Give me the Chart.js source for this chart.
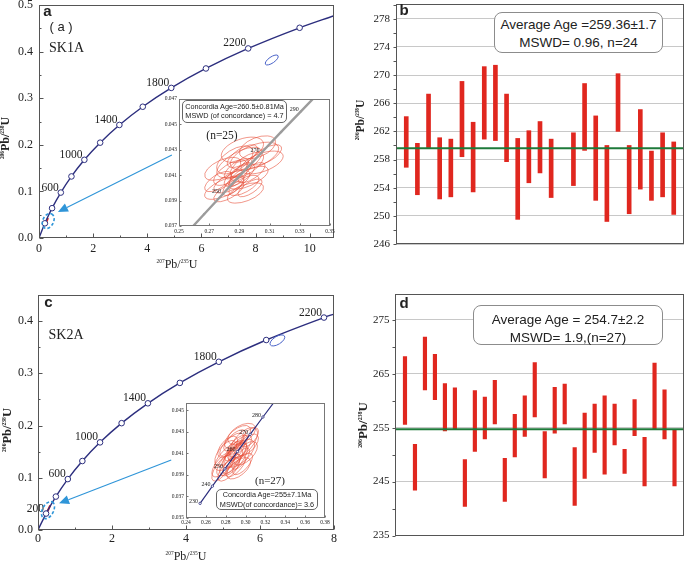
<!DOCTYPE html>
<html>
<head>
<meta charset="utf-8">
<title>U-Pb concordia and weighted mean ages, SK1A / SK2A</title>
<script src="https://cdn.jsdelivr.net/npm/chart.js@4.4.1/dist/chart.umd.min.js"></script>
<style>
  body { margin:0; background:#fff; }
  #page { position:relative; width:685px; height:562px; overflow:hidden; font-family:"Liberation Sans", Arial, sans-serif; color:#222; }
  canvas { position:absolute; }
  .c { position:absolute; transform:translate(-50%,-50%); white-space:nowrap; line-height:1.15; }
  .serif { font-family:"Liberation Serif", "Times New Roman", serif; }
  .rot { transform:translate(-50%,-50%) rotate(-90deg); font-weight:bold; }
  .s { font-size:0.45em; position:relative; top:-0.9em; }
  .box { position:absolute; box-sizing:border-box; border:1px solid #8c8c8c; background:#fff;
         display:flex; flex-direction:column; justify-content:center; align-items:center; white-space:nowrap; }
</style>
</head>
<body>
<div id="page">
  <canvas id="chA" width="342" height="280" style="left:0;top:0"></canvas>
  <canvas id="chAin" width="186" height="143" style="left:150px;top:94px"></canvas>
  <canvas id="chB" width="343" height="280" style="left:342px;top:0"></canvas>
  <canvas id="chC" width="342" height="282" style="left:0;top:280px"></canvas>
  <canvas id="chCin" width="176" height="132" style="left:155px;top:398px"></canvas>
  <canvas id="chD" width="343" height="282" style="left:342px;top:280px"></canvas>

  <!-- panel a -->
  <div class="c" style="left:47.5px;top:10.5px;font-size:15px;font-weight:bold">a</div>
  <div class="c" style="left:61px;top:27px;font-size:13px">( a )</div>
  <div class="c serif" style="left:66.5px;top:48px;font-size:14px">SK1A</div>
  <div class="c serif" style="left:177px;top:265px;font-size:12px"><span class="s">207</span>Pb/<span class="s">235</span>U</div>
  <div class="c serif rot" style="left:6px;top:138px;font-size:12px"><span class="s">206</span>Pb/<span class="s">238</span>U</div>
  <div class="box" style="left:182px;top:100px;width:105px;height:23px;border-color:#666;border-radius:5px;font-size:7.3px;line-height:9.5px;padding-bottom:1px">
    <div>Concordia Age=260.5±0.81Ma</div><div>MSWD (of concordance) = 4.7</div>
  </div>
  <div class="c serif" style="left:222px;top:136px;font-size:11.5px">(n=25)</div>

  <!-- panel b -->
  <div class="c" style="left:404px;top:10px;font-size:15px;font-weight:bold">b</div>
  <div class="box" style="left:494px;top:12px;width:169px;height:41px;border-radius:8px;font-size:13.5px;line-height:18px;padding-top:3px">
    <div>Average Age =259.36±1.7</div><div>MSWD= 0.96, n=24</div>
  </div>
  <div class="c serif rot" style="left:361px;top:120px;font-size:11.5px"><span class="s">206</span>Pb/<span class="s">238</span>U</div>

  <!-- panel c -->
  <div class="c" style="left:48.5px;top:302px;font-size:15px;font-weight:bold">c</div>
  <div class="c serif" style="left:66px;top:335px;font-size:14px">SK2A</div>
  <div class="c serif" style="left:186px;top:557px;font-size:12px"><span class="s">207</span>Pb/<span class="s">235</span>U</div>
  <div class="c serif rot" style="left:7px;top:430px;font-size:12.5px"><span class="s">206</span>Pb/<span class="s">238</span>U</div>
  <div class="box" style="left:216px;top:489px;width:102px;height:21px;border-color:#666;border-radius:5px;font-size:7.3px;line-height:9.5px">
    <div>Concordia Age=255±7.1Ma</div><div>MSWD(of concordance)= 3.6</div>
  </div>
  <div class="c serif" style="left:270px;top:480px;font-size:11px">(n=27)</div>

  <!-- panel d -->
  <div class="c" style="left:404px;top:303px;font-size:15px;font-weight:bold">d</div>
  <div class="box" style="left:473px;top:305px;width:190px;height:40px;border-radius:8px;font-size:13.5px;line-height:17.5px;padding-top:7px">
    <div>Average Age = 254.7±2.2</div><div>MSWD= 1.9,(n=27)</div>
  </div>
  <div class="c serif rot" style="left:363px;top:425px;font-size:13px"><span class="s">206</span>Pb/<span class="s">238</span>U</div>
</div>

<script>
"use strict";

// ---- concordia curve, main panels (207Pb/235U, 206Pb/238U, age labels) ----
var aConX = [0, 0.218, 0.483, 0.806, 1.199, 1.677, 2.260, 2.970, 3.834, 4.887, 6.168, 7.729, 9.630, 10.9];
var aConY = [0, 0.0315, 0.0640, 0.0975, 0.1321, 0.1678, 0.2046, 0.2426, 0.2817, 0.3221, 0.3638, 0.4068, 0.4511, 0.4771];
var aConAge = ['', '', '', '600', '', '1000', '', '1400', '', '1800', '', '2200', '', ''];

var cConX = [0, 0.218, 0.483, 0.806, 1.199, 1.677, 2.260, 2.970, 3.834, 4.887, 6.168, 7.729, 8.0];
var cConY = [0, 0.0315, 0.0640, 0.0975, 0.1321, 0.1678, 0.2046, 0.2426, 0.2817, 0.3221, 0.3638, 0.4068, 0.4135];
var cConAge = ['', '200', '', '600', '', '1000', '', '1400', '', '1800', '', '2200', ''];

var aXTicks = [0, 2, 4, 6, 8, 10];
var aYTicks = [0, 0.1, 0.2, 0.3, 0.4, 0.5];
var cXTicks = [0, 2, 4, 6, 8];
var cYTicks = [0, 0.1, 0.2, 0.3, 0.4];

// outlier ellipse and zoomed cluster: x, y, half width, half height, rho
var aOutlier = [8.6, 0.382, 0.24, 0.0107, 0.7];
var aCircled = [0.34, 0.0365, 0.22, 0.016, 0.3];
var cOutlier = [6.47, 0.363, 0.2, 0.0106, 0.6];
var cCircled = [0.27, 0.038, 0.176, 0.0163, 0.4];

// ---- insets: concordia between 230 and 310 Ma ----
var insConX = [0.2542, 0.2666, 0.2792, 0.2918, 0.3046, 0.3175, 0.3306, 0.3438, 0.3571];
var insConY = [0.03632, 0.03793, 0.03954, 0.04116, 0.04277, 0.04439, 0.04601, 0.04764, 0.04926];
var aInsAge = ['', '', '250', '', '270', '', '290', '', ''];
var cInsAge = ['230', '240', '250', '260', '270', '280', '', '', ''];

var aInsXTicks = [0.25, 0.27, 0.29, 0.31, 0.33, 0.35];
var aInsYTicks = [0.037, 0.039, 0.041, 0.043, 0.045, 0.047];
var cInsXTicks = [0.24, 0.26, 0.28, 0.30, 0.32, 0.34, 0.36, 0.38];
var cInsYTicks = [0.035, 0.037, 0.039, 0.041, 0.043, 0.045];

// SK1A spot ellipses (n=25)
var aEllX   = [0.290, 0.285, 0.295, 0.300, 0.292, 0.280, 0.298, 0.288, 0.305, 0.283, 0.293, 0.287, 0.296, 0.276, 0.289, 0.291, 0.302, 0.284, 0.294, 0.290, 0.279, 0.297, 0.286, 0.292, 0.308];
var aEllY   = [0.0410, 0.0405, 0.0418, 0.0425, 0.0430, 0.0400, 0.0412, 0.0415, 0.0420, 0.0397, 0.0402, 0.0422, 0.0408, 0.0405, 0.0408, 0.0413, 0.0432, 0.0412, 0.0396, 0.0420, 0.0415, 0.0400, 0.0402, 0.0425, 0.0426];
var aEllSx  = [0.010, 0.012, 0.011, 0.016, 0.014, 0.013, 0.009, 0.008, 0.014, 0.010, 0.010, 0.012, 0.013, 0.009, 0.006, 0.007, 0.012, 0.011, 0.012, 0.015, 0.012, 0.008, 0.007, 0.010, 0.010];
var aEllSy  = [0.0009, 0.0009, 0.0010, 0.0011, 0.0010, 0.0009, 0.0008, 0.0008, 0.0009, 0.0008, 0.0008, 0.0011, 0.0009, 0.0008, 0.0007, 0.0007, 0.0009, 0.0010, 0.0008, 0.0012, 0.0009, 0.0007, 0.0008, 0.0009, 0.0008];
var aEllRho = [0.70, 0.65, 0.65, 0.55, 0.45, 0.65, 0.70, 0.70, 0.55, 0.70, 0.65, 0.55, 0.65, 0.65, 0.75, 0.75, 0.45, 0.65, 0.55, 0.65, 0.55, 0.70, 0.70, 0.65, 0.65];

// SK2A spot ellipses (n=27)
var cEllX   = [0.289, 0.284, 0.294, 0.298, 0.292, 0.280, 0.286, 0.300, 0.290, 0.283, 0.295, 0.287, 0.291, 0.296, 0.278, 0.288, 0.302, 0.293, 0.282, 0.297, 0.285, 0.292, 0.276, 0.304, 0.289, 0.294, 0.286];
var cEllY   = [0.0408, 0.0402, 0.0415, 0.0420, 0.0425, 0.0410, 0.0418, 0.0410, 0.0398, 0.0395, 0.0405, 0.0412, 0.0412, 0.0428, 0.0400, 0.0404, 0.0418, 0.0396, 0.0416, 0.0400, 0.0408, 0.0418, 0.0396, 0.0425, 0.0422, 0.0410, 0.0400];
var cEllSx  = [0.012, 0.013, 0.012, 0.014, 0.013, 0.011, 0.012, 0.012, 0.010, 0.011, 0.009, 0.008, 0.008, 0.014, 0.012, 0.014, 0.011, 0.012, 0.010, 0.010, 0.016, 0.010, 0.010, 0.009, 0.011, 0.015, 0.009];
var cEllSy  = [0.0012, 0.0013, 0.0012, 0.0014, 0.0011, 0.0012, 0.0011, 0.0011, 0.0010, 0.0011, 0.0010, 0.0009, 0.0009, 0.0010, 0.0012, 0.0015, 0.0010, 0.0010, 0.0010, 0.0010, 0.0014, 0.0009, 0.0012, 0.0009, 0.0010, 0.0013, 0.0009];
var cEllRho = [0.70, 0.70, 0.70, 0.60, 0.60, 0.60, 0.70, 0.60, 0.70, 0.70, 0.70, 0.75, 0.75, 0.50, 0.70, 0.70, 0.60, 0.60, 0.60, 0.70, 0.70, 0.70, 0.70, 0.60, 0.70, 0.60, 0.70];

// ---- weighted mean plots: spot number, age low/high (Ma) ----
var bSpot = [1, 2, 3, 4, 5, 6, 7, 8, 9, 10, 11, 12, 13, 14, 16, 17, 18, 19, 20, 21, 22, 23, 24, 25];
var bLow  = [256.9, 253.0, 259.7, 252.4, 252.7, 258.4, 253.4, 260.9, 260.7, 257.7, 249.5, 254.7, 256.1, 252.6, 254.3, 259.3, 252.2, 249.2, 262.0, 250.3, 253.8, 252.2, 252.7, 250.2];
var bHigh = [264.1, 260.3, 267.3, 261.1, 260.9, 269.1, 263.3, 271.2, 271.4, 267.3, 261.0, 262.1, 263.4, 260.9, 261.8, 268.8, 264.2, 260.0, 270.2, 260.0, 265.1, 259.2, 261.8, 260.5];
var bMean = 259.6;
var bYTicks = [246, 250, 254, 258, 262, 266, 270, 274, 278];

var dSpot = [1, 2, 3, 4, 5, 6, 7, 8, 9, 10, 11, 12, 13, 14, 15, 16, 17, 18, 19, 20, 21, 22, 23, 24, 25, 26, 27, 28];
var dLow  = [255.6, 243.4, 262.0, 260.2, 254.4, 254.7, 240.4, 250.6, 252.9, 255.7, 241.3, 249.6, 253.4, 257.0, 245.7, 254.0, 255.7, 240.6, 245.6, 250.4, 246.4, 251.8, 246.5, 253.5, 244.2, 254.7, 252.9, 244.2];
var dHigh = [268.2, 251.9, 271.8, 268.6, 263.2, 262.4, 249.1, 261.9, 260.7, 263.8, 249.3, 257.5, 260.9, 267.1, 254.3, 262.5, 263.1, 251.3, 257.7, 259.4, 260.9, 259.4, 251.0, 260.2, 253.2, 267.0, 262.0, 254.6];
var dMean = 254.7;
var dYTicks = [235, 245, 255, 265, 275];

var SERIF = '"Liberation Serif", "Times New Roman", serif';
var NAVY = '#2c2e7e';
var RED = '#e0271f';
var GREEN = '#1e7a3a';
var SKY = '#2f95d8';


// linear axis with a fixed box size and an explicit tick list
function axis(o) {
	return {
		type: 'linear', min: o.min, max: o.max, offset: false,
		afterBuildTicks: function(s) { s.ticks = o.ticks.map(function(v) { return { value: v }; }); },
		afterFit: function(s) {
			if (s.isHorizontal()) s.height = o.size; else s.width = o.size;
			s.paddingLeft = s.paddingRight = s.paddingTop = s.paddingBottom = 0;
		},
		grid: { display: !!o.grid, color: o.grid, drawTicks: false, lineWidth: 1 },
		border: { display: false },
		ticks: {
			display: o.labels !== false, autoSkip: false, maxRotation: 0,
			font: { family: SERIF, size: o.font || 12 }, color: '#222', padding: o.pad || 0,
			callback: o.fmt || function(v) { return v; }
		}
	};
}

// frame round the plot area plus small major/minor ticks (dir 1 = inward)
function frame(color, dir, major, minor) {
	return {
		id: 'frame',
		afterDraw: function(chart) {
			var ctx = chart.ctx, a = chart.chartArea, xs = chart.scales.x, ys = chart.scales.y;
			var L = Math.round(a.left) + 0.5, R = Math.round(a.right) - 0.5;
			var T = Math.round(a.top) + 0.5, B = Math.round(a.bottom) - 0.5;
			ctx.save();
			ctx.strokeStyle = color;
			ctx.lineWidth = 1;
			ctx.strokeRect(L, T, R - L, B - T);
			var marks = function(scale, horiz) {
				var t = scale.ticks.map(function(k) { return k.value; });
				var list = [];
				t.forEach(function(v, i) {
					list.push([v, major]);
					if (i < t.length - 1) list.push([(v + t[i + 1]) / 2, minor]);
				});
				if (t.length > 1) {
					var h = (t[1] - t[0]) / 2;
					list.push([t[0] - h, minor], [t[t.length - 1] + h, minor]);
				}
				list.forEach(function(m) {
					if (m[0] < scale.min || m[0] > scale.max) return;
					var p = Math.round(scale.getPixelForValue(m[0])) + 0.5;
					ctx.beginPath();
					if (horiz) { ctx.moveTo(p, B); ctx.lineTo(p, B - dir * m[1]); }
					else { ctx.moveTo(L, p); ctx.lineTo(L + dir * m[1], p); }
					ctx.stroke();
				});
			};
			if (major > 0) {
				if (xs.options.ticks.display) marks(xs, true);
				marks(ys, false);
			}
			ctx.restore();
		}
	};
}

// age labels set to the upper left of their marker
function ageLabels(xs, ys, labels, size, dx, dy) {
	return {
		id: 'ages',
		afterDatasetsDraw: function(chart) {
			var ctx = chart.ctx, sx = chart.scales.x, sy = chart.scales.y;
			ctx.save();
			ctx.font = size + 'px ' + SERIF;
			ctx.fillStyle = '#222';
			ctx.textAlign = 'right';
			ctx.textBaseline = 'middle';
			labels.forEach(function(t, i) {
				if (!t) return;
				ctx.fillText(t, sx.getPixelForValue(xs[i]) - dx, sy.getPixelForValue(ys[i]) - dy);
			});
			ctx.restore();
		}
	};
}

// error ellipse from half extents and correlation, in pixel space
function drawEllipse(ctx, sx, sy, cx, cy, hx, hy, rho) {
	var px = sx.getPixelForValue(cx), py = sy.getPixelForValue(cy);
	var a = Math.abs(sx.getPixelForValue(cx + hx) - px);
	var b = Math.abs(sy.getPixelForValue(cy + hy) - py);
	var c = -rho * a * b;
	var th = 0.5 * Math.atan2(2 * c, a * a - b * b);
	var m = (a * a + b * b) / 2, d = Math.sqrt(Math.pow((a * a - b * b) / 2, 2) + c * c);
	ctx.beginPath();
	ctx.ellipse(px, py, Math.sqrt(m + d), Math.sqrt(Math.max(m - d, 0.05)), th, 0, 2 * Math.PI);
	ctx.stroke();
}

function ellipses(id, sets, before) {
	var draw = function(chart) {
		var ctx = chart.ctx, a = chart.chartArea, sx = chart.scales.x, sy = chart.scales.y;
		sets.forEach(function(s) {
			ctx.save();
			ctx.beginPath();
			ctx.rect(a.left, a.top, a.right - a.left, a.bottom - a.top);
			ctx.clip();
			ctx.strokeStyle = s.color;
			ctx.lineWidth = s.width;
			ctx.setLineDash(s.dash || []);
			s.x.forEach(function(cx, i) { drawEllipse(ctx, sx, sy, cx, s.y[i], s.hx[i], s.hy[i], s.rho[i]); });
			ctx.restore();
		});
	};
	var p = { id: id };
	if (before) p.beforeDatasetsDraw = draw; else p.afterDatasetsDraw = draw;
	return p;
}

function single(e, color, width, dash) {
	return { x: [e[0]], y: [e[1]], hx: [e[2]], hy: [e[3]], rho: [e[4]], color: color, width: width, dash: dash };
}

// blue arrow pointing from the inset to the zoomed cluster
function arrow(x0, y0, x1, y1) {
	return {
		id: 'arrow',
		afterDatasetsDraw: function(chart) {
			var ctx = chart.ctx, sx = chart.scales.x, sy = chart.scales.y;
			var ax = sx.getPixelForValue(x0), ay = sy.getPixelForValue(y0);
			var bx = sx.getPixelForValue(x1), by = sy.getPixelForValue(y1);
			var ang = Math.atan2(by - ay, bx - ax), len = 10, w = 4.5;
			var hx = bx - len * Math.cos(ang), hy = by - len * Math.sin(ang);
			ctx.save();
			ctx.strokeStyle = SKY;
			ctx.fillStyle = SKY;
			ctx.lineWidth = 1.2;
			ctx.beginPath(); ctx.moveTo(ax, ay); ctx.lineTo(hx, hy); ctx.stroke();
			ctx.beginPath();
			ctx.moveTo(bx, by);
			ctx.lineTo(hx + w * Math.sin(ang), hy - w * Math.cos(ang));
			ctx.lineTo(hx - w * Math.sin(ang), hy + w * Math.cos(ang));
			ctx.closePath(); ctx.fill();
			ctx.restore();
		}
	};
}

var whiteArea = {
	id: 'whiteArea',
	beforeDraw: function(chart) {
		var a = chart.chartArea;
		chart.ctx.save();
		chart.ctx.fillStyle = '#fff';
		chart.ctx.fillRect(a.left, a.top, a.right - a.left, a.bottom - a.top);
		chart.ctx.restore();
	}
};

function points(xs, ys) {
	return xs.map(function(x, i) { return { x: x, y: ys[i] }; });
}

function baseOptions(pad, x, y) {
	return {
		animation: false, responsive: false, devicePixelRatio: 1, events: [],
		layout: { padding: pad },
		plugins: { legend: { display: false }, tooltip: { enabled: false } },
		scales: { x: x, y: y }
	};
}

// main concordia diagram
function concordia(id, o) {
	var last = o.xs.length - 1;
	return new Chart(document.getElementById(id), {
		type: 'line',
		data: {
			datasets: [{
				data: points(o.xs, o.ys),
				borderColor: NAVY, borderWidth: 1.4,
				tension: 0.4, cubicInterpolationMode: 'monotone',
				pointRadius: o.xs.map(function(v, i) { return i === 0 || i === last ? 0 : 2.8; }),
				pointBackgroundColor: '#fff', pointBorderColor: NAVY, pointBorderWidth: 1
			}, {
				data: points(o.red[0], o.red[1]),
				borderColor: RED, borderWidth: 2, pointRadius: 0
			}]
		},
		options: baseOptions(o.pad,
			axis({ min: 0, max: o.xmax, ticks: o.xt, size: o.xsize, pad: o.xpad }),
			axis({ min: 0, max: o.ymax, ticks: o.yt, size: o.ysize, pad: o.ypad, fmt: function(v) { return v.toFixed(1); } })),
		plugins: [
			frame('#555', 1, 4, 2),
			ageLabels(o.xs, o.ys, o.ages, 11.5, 2, 5),
			ellipses('ells', [single(o.outlier, '#4a63c8', 1), single(o.circled, SKY, 1.6, [3, 2])], false),
			arrow(o.arrow[0], o.arrow[1], o.arrow[2], o.arrow[3])
		]
	});
}

// inset close-up of the concordia
function inset(id, o) {
	var ds = [];
	if (o.grey) {
		ds.push({ data: points(insConX, insConY), borderColor: '#9c9c9c', borderWidth: 2.4, pointRadius: 0, tension: 0 });
		ds.push({ data: points(insConX, insConY), borderColor: '#e6e6e6', borderWidth: 0.9, tension: 0,
			pointRadius: 1.4, pointStyle: 'rectRot', pointBackgroundColor: '#888', pointBorderWidth: 0 });
	} else {
		ds.push({ data: points(insConX, insConY), borderColor: NAVY, borderWidth: 1.2, tension: 0,
			pointRadius: 1.2, pointBackgroundColor: '#fff', pointBorderColor: NAVY, pointBorderWidth: 0.8 });
	}
	return new Chart(document.getElementById(id), {
		type: 'line',
		data: { datasets: ds },
		options: baseOptions(o.pad,
			axis({ min: o.xmin, max: o.xmax, ticks: o.xt, size: o.xsize, font: 5.5, pad: 2, fmt: function(v) { return v.toFixed(2); } }),
			axis({ min: o.ymin, max: o.ymax, ticks: o.yt, size: o.ysize, font: 5.5, pad: 2, fmt: function(v) { return v.toFixed(3); } })),
		plugins: [
			whiteArea,
			ellipses('spots', [{ x: o.ex, y: o.ey, hx: o.esx, hy: o.esy, rho: o.erho, color: 'rgba(232,80,58,0.85)', width: 0.7 }], true),
			frame('#777', 1, 2, 0),
			ageLabels(insConX, insConY, o.ages, 6, 2, 2)
		]
	});
}

// weighted mean age bar plot
function meanPlot(id, o) {
	return new Chart(document.getElementById(id), {
		type: 'bar',
		data: {
			datasets: [{
				type: 'line', order: 0,
				data: [{ x: o.xmin, y: o.mean }, { x: o.xmax, y: o.mean }],
				borderColor: GREEN, borderWidth: 2, pointRadius: 0
			}, {
				type: 'bar', order: 1,
				data: o.spot.map(function(x, i) { return { x: x, y: [o.lo[i], o.hi[i]] }; }),
				backgroundColor: RED, borderWidth: 0, barThickness: o.bw
			}]
		},
		options: baseOptions(o.pad,
			axis({ min: o.xmin, max: o.xmax, ticks: [], size: o.xsize, labels: false }),
			axis({ min: o.ymin, max: o.ymax, ticks: o.yt, size: o.ysize, font: 11, pad: o.ypad, grid: '#c8c8c8' })),
		plugins: [frame('#555', -1, 3, 3)]
	});
}


concordia('chA', {
	xs: aConX, ys: aConY, ages: aConAge, xt: aXTicks, yt: aYTicks,
	xmax: 10.9, ymax: 0.5,
	pad: { left: 0, top: 5, right: 8, bottom: 0 }, xsize: 42, ysize: 39, xpad: 4, ypad: 6,
	outlier: aOutlier, circled: aCircled,
	red: [[0.26, 0.33], [0.031, 0.043]],
	arrow: [4.91, 0.178, 0.70, 0.056]
});

inset('chAin', {
	grey: true, ages: aInsAge,
	xmin: 0.25, xmax: 0.35, ymin: 0.037, ymax: 0.047, xt: aInsXTicks, yt: aInsYTicks,
	pad: { left: 0, top: 5, right: 6, bottom: 0 }, xsize: 11, ysize: 29,
	ex: aEllX, ey: aEllY, esx: aEllSx, esy: aEllSy, erho: aEllRho
});

meanPlot('chB', {
	spot: bSpot, lo: bLow, hi: bHigh, mean: bMean, yt: bYTicks,
	xmin: 0.08, xmax: 25.92, ymin: 246, ymax: 280.1, bw: 4,
	pad: { left: 0, top: 4, right: 1, bottom: 0 }, xsize: 36, ysize: 54, ypad: 6
});

concordia('chC', {
	xs: cConX, ys: cConY, ages: cConAge, xt: cXTicks, yt: cYTicks,
	xmax: 8, ymax: 0.45,
	pad: { left: 0, top: 15, right: 8, bottom: 0 }, xsize: 32, ysize: 38, xpad: 2, ypad: 5,
	outlier: cOutlier, circled: cCircled,
	red: [[0.24, 0.33], [0.033, 0.047]],
	arrow: [3.6, 0.134, 0.57, 0.051]
});

inset('chCin', {
	grey: false, ages: cInsAge,
	xmin: 0.24, xmax: 0.38, ymin: 0.035, ymax: 0.0457, xt: cInsXTicks, yt: cInsYTicks,
	pad: { left: 0, top: 5, right: 6, bottom: 0 }, xsize: 12.5, ysize: 31,
	ex: cEllX, ey: cEllY, esx: cEllSx, esy: cEllSy, erho: cEllRho
});

meanPlot('chD', {
	spot: dSpot, lo: dLow, hi: dHigh, mean: dMean, yt: dYTicks,
	xmin: 0, xmax: 28.95, ymin: 235, ymax: 279.8, bw: 3.5,
	pad: { left: 0, top: 14, right: 1, bottom: 0 }, xsize: 26.5, ysize: 53, ypad: 5.5
});
</script>
</body>
</html>
